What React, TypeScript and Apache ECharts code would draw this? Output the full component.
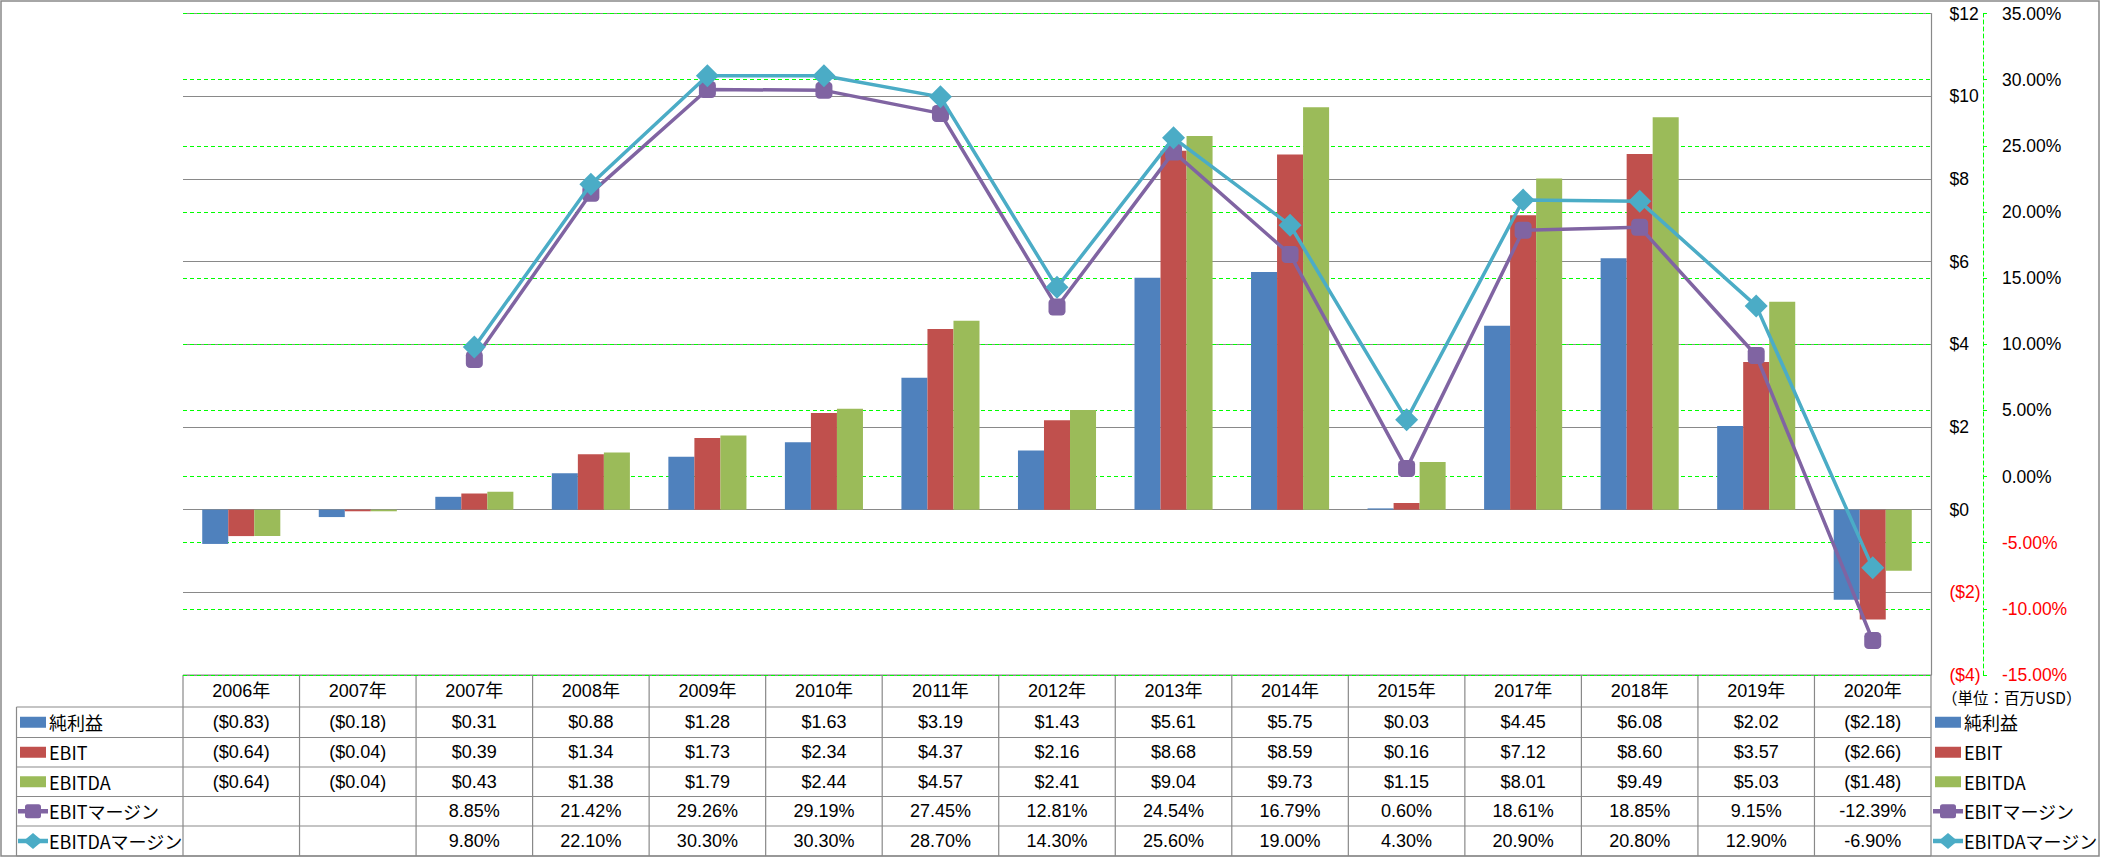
import React, { useEffect, useRef } from "react";
import * as echarts from "echarts";

// ---------- data ----------
const categories = ["2006年", "2007年", "2007年", "2008年", "2009年", "2010年", "2011年", "2012年", "2013年", "2014年", "2015年", "2017年", "2018年", "2019年", "2020年"];
const netIncome = [-0.83, -0.18, 0.31, 0.88, 1.28, 1.63, 3.19, 1.43, 5.61, 5.75, 0.03, 4.45, 6.08, 2.02, -2.18];
const ebit = [-0.64, -0.04, 0.39, 1.34, 1.73, 2.34, 4.37, 2.16, 8.68, 8.59, 0.16, 7.12, 8.6, 3.57, -2.66];
const ebitda = [-0.64, -0.04, 0.43, 1.38, 1.79, 2.44, 4.57, 2.41, 9.04, 9.73, 1.15, 8.01, 9.49, 5.03, -1.48];
const ebitMargin = [null, null, 8.85, 21.42, 29.26, 29.19, 27.45, 12.81, 24.54, 16.79, 0.6, 18.61, 18.85, 9.15, -12.39];
const ebitdaMargin = [null, null, 9.8, 22.1, 30.3, 30.3, 28.7, 14.3, 25.6, 19.0, 4.3, 20.9, 20.8, 12.9, -6.9];
const seriesNames = ["純利益", "EBIT", "EBITDA", "EBITマージン", "EBITDAマージン"];
const usdTicks = [-4, -2, 0, 2, 4, 6, 8, 10, 12];
const pctTicks = [-15, -10, -5, 0, 5, 10, 15, 20, 25, 30, 35];
const unitNote = "（単位：百万USD）";

// ---------- styles / layout ----------
const W = 2101;
const H = 858;
const GL = 183;
const GR = 1931;
const GT = 13.5;
const GB = 675;
const ROWS = [675, 707, 737.5, 767, 796.5, 826, 856];
const COLORS = ["#4F81BD", "#C0504D", "#9BBB59", "#8064A2", "#4BACC6"];
const GRAY = "#898989";
const GREEN = "#00FF00";
const RED = "#FF0000";
const FONT = '"Liberation Sans", "Noto Sans CJK JP", sans-serif';
const JFONT = '"Noto Sans CJK JP", "Liberation Sans", sans-serif';

const fmtUsd = (v: number) => (v < 0 ? `($${Math.abs(v).toFixed(2)})` : `$${v.toFixed(2)}`);
const fmtPct = (v: number | null) => (v === null ? "" : `${v.toFixed(2)}%`);

function textEl(txt: string, x: number, y: number, size: number, family: string, align: string, fill = "#000") {
  return {
    type: "text", silent: true, x, y,
    style: { text: txt, fill, fontSize: size, fontFamily: family, align, verticalAlign: "middle", textAlign: align, textVerticalAlign: "middle" },
  };
}

function legendKey(els: any[], r: number, x0: number, cy: number) {
  if (r < 3) {
    els.push({ type: "rect", silent: true, shape: { x: x0 + 2, y: cy - 5.5, width: 26, height: 11 }, style: { fill: COLORS[r] } });
  } else {
    const cx = x0 + 15;
    els.push({ type: "line", silent: true, shape: { x1: x0, y1: cy, x2: x0 + 30, y2: cy }, style: { stroke: COLORS[r], lineWidth: 4.5 } });
    if (r === 3) {
      els.push({ type: "rect", silent: true, shape: { x: cx - 8, y: cy - 7, width: 16, height: 14, r: 2.5 }, style: { fill: COLORS[r] } });
    } else {
      els.push({ type: "polygon", silent: true, shape: { points: [[cx, cy - 8], [cx + 9.5, cy], [cx, cy + 8], [cx - 9.5, cy]] }, style: { fill: COLORS[r] } });
    }
  }
}

function buildGraphic() {
  const els: any[] = [];
  const bandW = (GR - GL) / categories.length;
  // outer border
  els.push({ type: "rect", silent: true, shape: { x: 1, y: 1, width: W - 3, height: H - 3 }, style: { fill: "none", stroke: GRAY, lineWidth: 1.5 } });
  // table horizontal lines
  els.push({ type: "line", silent: true, shape: { x1: GL, y1: ROWS[0], x2: GR, y2: ROWS[0] }, style: { stroke: GRAY, lineWidth: 1.2 } });
  for (let r = 1; r < ROWS.length; r++) {
    els.push({ type: "line", silent: true, shape: { x1: 16.5, y1: ROWS[r], x2: GR, y2: ROWS[r] }, style: { stroke: GRAY, lineWidth: 1.2 } });
  }
  // vertical lines
  els.push({ type: "line", silent: true, shape: { x1: 16.5, y1: ROWS[1], x2: 16.5, y2: ROWS[6] }, style: { stroke: GRAY, lineWidth: 1.2 } });
  for (let c = 0; c <= categories.length; c++) {
    const x = GL + c * bandW;
    els.push({ type: "line", silent: true, shape: { x1: x, y1: ROWS[0], x2: x, y2: ROWS[6] }, style: { stroke: GRAY, lineWidth: 1.2 } });
  }
  // values
  const rowsData: Array<Array<string>> = [
    netIncome.map(fmtUsd),
    ebit.map(fmtUsd),
    ebitda.map(fmtUsd),
    ebitMargin.map(fmtPct),
    ebitdaMargin.map(fmtPct),
  ];
  rowsData.forEach((row, r) => {
    const cy = (ROWS[r + 1] + ROWS[r + 2]) / 2;
    row.forEach((txt, c) => {
      if (!txt) return;
      els.push(textEl(txt, GL + (c + 0.5) * bandW, cy, 18, FONT, "center"));
    });
    // left legend key + name (table row header)
    legendKey(els, r, 18, cy);
    els.push(textEl(seriesNames[r], 49, cy, 18, JFONT, "left"));
    // right legend
    legendKey(els, r, 1933, cy);
    els.push(textEl(seriesNames[r], 1964, cy, 18, JFONT, "left"));
  });
  // unit note
  els.push(textEl(unitNote, 1942, 697, 15.5, JFONT, "left"));
  return els;
}

export default function App() {
  const ref = useRef<HTMLDivElement>(null);
  useEffect(() => {
    if (!ref.current) return;
    const chart = echarts.init(ref.current, undefined, { renderer: "svg" });
    const barSeries = [netIncome, ebit, ebitda].map((d, i) => ({
      name: seriesNames[i],
      type: "bar",
      data: d,
      yAxisIndex: 0,
      barGap: "0%",
      barCategoryGap: "33%",
      itemStyle: { color: COLORS[i] },
    }));
    const lineSeries = [ebitMargin, ebitdaMargin].map((d, i) => ({
      name: seriesNames[3 + i],
      type: "line",
      data: d,
      yAxisIndex: 1,
      symbol: i === 0 ? "roundRect" : "diamond",
      symbolSize: i === 0 ? 17 : 23,
      showSymbol: true,
      lineStyle: { color: COLORS[3 + i], width: 3.5 },
      itemStyle: { color: COLORS[3 + i] },
      z: 5 + i,
    }));
    chart.setOption({
      animation: false,
      grid: { left: GL, right: W - GR, top: GT, bottom: H - GB, containLabel: false },
      xAxis: {
        type: "category",
        data: categories,
        axisLine: { show: false, onZero: false },
        axisTick: { show: false },
        splitLine: { show: false },
        axisLabel: { interval: 0, margin: 7, fontSize: 18, fontFamily: FONT, color: "#000" },
      },
      yAxis: [
        {
          type: "value",
          position: "right",
          min: usdTicks[0],
          max: usdTicks[usdTicks.length - 1],
          interval: usdTicks[1] - usdTicks[0],
          axisLine: { show: true, lineStyle: { color: GRAY, width: 1.2 } },
          axisTick: { show: false },
          splitLine: { show: true, lineStyle: { color: GRAY, width: 1.2 } },
          axisLabel: {
            margin: 18.5,
            fontSize: 17.5,
            fontFamily: FONT,
            align: "left",
            formatter: (v: number) => (v < 0 ? `($${Math.abs(v)})` : `$${v}`),
            color: (v: any) => (Number(v) < 0 ? RED : "#000"),
          },
        },
        {
          type: "value",
          position: "right",
          offset: 52,
          min: pctTicks[0],
          max: pctTicks[pctTicks.length - 1],
          interval: pctTicks[1] - pctTicks[0],
          axisLine: { show: true, lineStyle: { color: GREEN, width: 1, type: [4, 3] } },
          axisTick: { show: true, length: 4, lineStyle: { color: GREEN, width: 1 } },
          splitLine: { show: true, lineStyle: { color: GREEN, width: 1, type: [4, 3] } },
          axisLabel: {
            margin: 19,
            fontSize: 17.5,
            fontFamily: FONT,
            align: "left",
            formatter: (v: number) => `${v.toFixed(2)}%`,
            color: (v: any) => (Number(v) < 0 ? RED : "#000"),
          },
        },
      ],
      series: [...barSeries, ...lineSeries],
      graphic: buildGraphic(),
    });
    return () => chart.dispose();
  }, []);
  return <div ref={ref} style={{ position: "absolute", left: 0, top: 0, width: W, height: H, background: "#fff" }} />;
}
